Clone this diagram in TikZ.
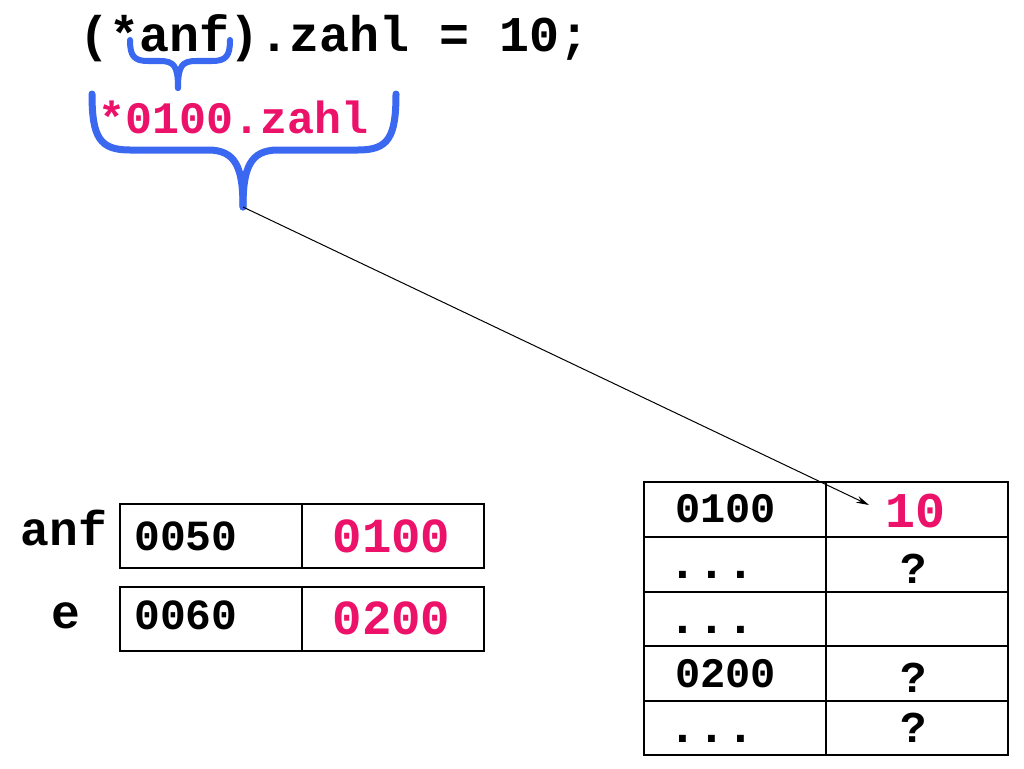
\documentclass[tikz,border=0pt]{standalone}
\usepackage{fontspec}
\setmainfont{Liberation Mono}
\usetikzlibrary{arrows.meta}
\definecolor{pinkc}{RGB}{236,18,106}
\definecolor{bluec}{RGB}{58,104,240}
\tikzset{
  txt/.style={inner sep=0pt, anchor=base, font=\bfseries\fontsize{#1}{#1}\selectfont},
  outer/.style={draw=black, line width=2.4pt},
  inner/.style={draw=black, line width=1.3pt},
  brace/.style={draw=bluec, line cap=round, line join=round},
}
\begin{document}
\begin{tikzpicture}[x=1pt,y=-1pt]
\useasboundingbox[fill=white] (0,0) rectangle (1024,768);
% top code
\node[txt=50] (code) at (335,52) {(*anf).zahl = 10;};
\node[txt=45, text=pinkc] (deref) at (234,133) {*0100.zahl};
% small brace
\draw[brace, line width=6pt] (130,40) .. controls (130,56) and (134,61) .. (148,61) -- (160,61) .. controls (174,61) and (178,66) .. (178,88);
\draw[brace, line width=6pt] (178,88) .. controls (178,66) and (182,61) .. (196,61) -- (212,61) .. controls (226,61) and (230,56) .. (230,40);
% large brace
\coordinate (tip) at (243,207);
\draw[brace, line width=7pt] (92,94) .. controls (92,138) and (100,150) .. (130,150) -- (208,150) .. controls (236,150) and (243,168) .. (tip);
\draw[brace, line width=7pt] (tip) .. controls (243,168) and (250,150) .. (278,150) -- (358,150) .. controls (388,150) and (396,138) .. (396,94);
% left variables
\node[txt=48] (anf) at (64,545) {anf};
\node[txt=48] (e) at (66,628) {e};
\draw[outer] (120,504) rectangle (484,568);
\draw[inner] (302,504) -- (302,568);
\draw[outer] (120,587) rectangle (484,651);
\draw[inner] (302,587) -- (302,651);
\node[txt=43] (a1) at (186,550) {0050};
\node[txt=49, text=pinkc] (a2) at (391.5,552) {0100};
\node[txt=43] (e1) at (186,629) {0060};
\node[txt=49, text=pinkc] (e2) at (391.5,634) {0200};
% memory table
\foreach \y in {537,592,646,701} \draw[inner] (644,\y) -- (1008,\y);
\draw[inner] (826,482) -- (826,755);
\draw[outer] (644,482) rectangle (1008,755);
\node[txt=42] (m1) at (725.5,522) {0100};
\node[txt=50, text=pinkc] (v1) at (915,527) {10};
\node[txt=48] (m2) at (712,578) {...};
\node[txt=44] (v2) at (914,583) {?};
\node[txt=48] (m3) at (712,633) {...};
\node[txt=42] (m4) at (725.5,687) {0200};
\node[txt=44] (v4) at (914,692) {?};
\node[txt=48] (m5) at (712,742) {...};
\node[txt=44] (v5) at (914,742) {?};
% arrow
\coordinate (target) at (869,505);
\draw[line width=1pt, -{Stealth[length=13pt,width=7pt]}] (tip) -- (target);
\end{tikzpicture}
\end{document}
